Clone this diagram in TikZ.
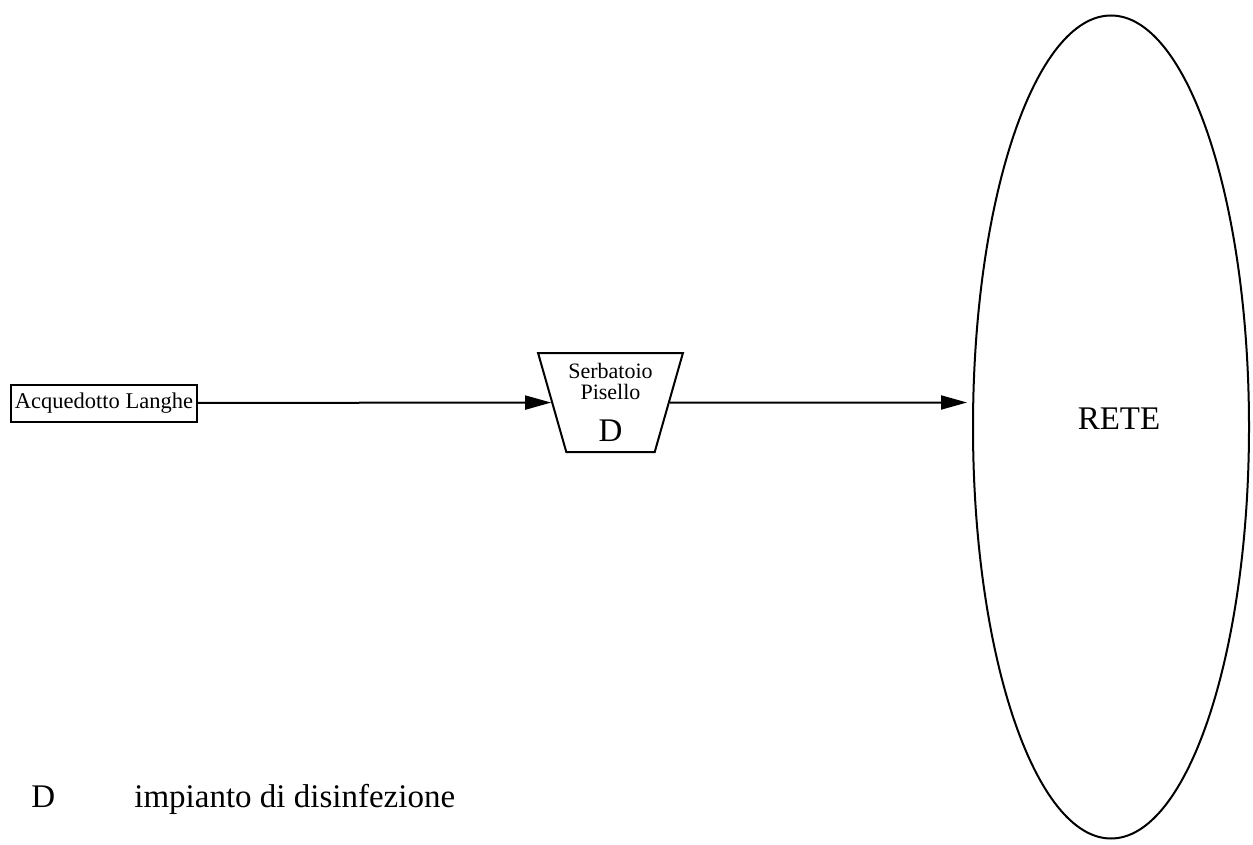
\documentclass[tikz,border=0pt]{standalone}
\usepackage{fontspec}
\setmainfont{Liberation Serif}
\usetikzlibrary{shapes.geometric,arrows.meta}
\begin{document}
\begin{tikzpicture}[x=1pt,y=-1pt,line width=2pt,
  >={Triangle[length=26pt,width=14pt]},
  sorgente/.style={draw,inner xsep=4pt,minimum height=37pt,font=\fontsize{22.5}{22.5}\selectfont},
  serbatoio/.style={draw,trapezium,trapezium angle=71,shape border rotate=180,
    trapezium stretches,minimum width=145pt,minimum height=99pt,inner sep=0pt,align=center,
    font=\fontsize{22}{21}\selectfont},
  rete/.style={draw,ellipse,minimum width=276pt,minimum height=823pt},
  legenda/.style={anchor=base west,font=\fontsize{33}{33}\selectfont}]
\useasboundingbox (0,0) rectangle (1253,845);
\node[sorgente] (acq) at (104,403) {Acquedotto Langhe};
\node[serbatoio] (serb) at (610.5,402.5) {Serbatoio\\Pisello\\[19pt]{\fontsize{33}{33}\selectfont D}};
\node[rete,label={[xshift=8pt,yshift=8pt,font=\fontsize{33}{33}\selectfont]center:RETE}] (rete) at (1111,427) {};
\draw[->] (acq) -- (serb);
\draw[->,shorten >=5pt] (serb) -- (serb -| rete.west);
% legenda
\node[legenda] (legD) at (27,807) {D};
\node[legenda] (legtxt) at (130,807) {impianto di disinfezione};
\end{tikzpicture}
\end{document}
